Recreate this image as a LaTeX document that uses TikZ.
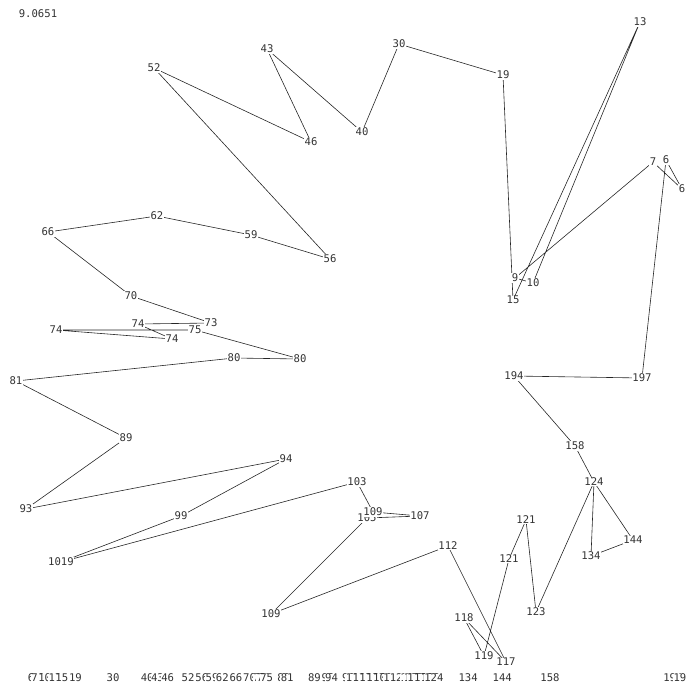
\documentclass[tikz,border=0pt]{standalone}
\usepackage{fontspec}
\setmonofont{DejaVu Sans Mono}
\usetikzlibrary{backgrounds}
\begin{document}
\begin{tikzpicture}[x=1pt,y=-1pt,
  lab/.style={font=\ttfamily\fontsize{10.6}{12}\selectfont, fill=white, inner sep=0.5pt, text=black!80},
  edge/.style={line width=0.6pt, black!85}]
\useasboundingbox (0,0) rectangle (687,689);
\node[lab] (title) at (38,14) {9.0651};
% tour labels
\node[lab] (n13) at (640,22) {13};
\node[lab] (n30) at (399,44) {30};
\node[lab] (n19) at (503,75) {19};
\node[lab] (n43) at (267,49) {43};
\node[lab] (n52) at (154,68) {52};
\node[lab] (n40) at (362,132) {40};
\node[lab] (n46) at (311,142) {46};
\node[lab] (n7) at (653,162) {7};
\node[lab] (n6a) at (666,160) {6};
\node[lab] (n6b) at (682,189) {6};
\node[lab] (n62) at (157,216) {62};
\node[lab] (n66) at (48,232) {66};
\node[lab] (n59) at (251,235) {59};
\node[lab] (n56) at (330,259) {56};
\node[lab] (n9) at (515,278) {9};
\node[lab] (n10) at (533,283) {10};
\node[lab] (n15) at (513,300) {15};
\node[lab] (n70) at (131,296) {70};
\node[lab] (n73) at (211,323) {73};
\node[lab] (n74a) at (138,324) {74};
\node[lab] (n75) at (195,330) {75};
\node[lab] (n74b) at (56,330) {74};
\node[lab] (n74c) at (172,339) {74};
\node[lab] (n80a) at (234,358) {80};
\node[lab] (n80b) at (300,359) {80};
\node[lab] (n81) at (16,381) {81};
\node[lab] (n194) at (514,376) {194};
\node[lab] (n197) at (642,378) {197};
\node[lab] (n89) at (126,438) {89};
\node[lab] (n158) at (575,446) {158};
\node[lab] (n94) at (286,459) {94};
\node[lab] (n124) at (594,482) {124};
\node[lab] (n103) at (357,482) {103};
\node[lab] (n105) at (367,518) {105};
\node[lab] (n109a) at (373,512) {109};
\node[lab] (n107) at (420,516) {107};
\node[lab] (n93) at (26,509) {93};
\node[lab] (n99) at (181,516) {99};
\node[lab] (n121a) at (526,520) {121};
\node[lab] (n144) at (633,540) {144};
\node[lab] (n112) at (448,546) {112};
\node[lab] (n134) at (591,556) {134};
\node[lab] (n121b) at (509,559) {121};
\node[lab] (n1019) at (61,562) {1019};
\node[lab] (n109b) at (271,614) {109};
\node[lab] (n123) at (536,612) {123};
\node[lab] (n118) at (464,618) {118};
\node[lab] (n119) at (484,656) {119};
\node[lab] (n117) at (506,662) {117};
% bottom row
\foreach \v in {6,7,9,10,13,15,19,30,40,43,46,52,56,59,62,66,70,73,74,75,80,81,89,93,94,99,101,103,105,107,109,112,117,118,119,121,123,124,134,144,158,194,197}
  \node[lab] (b\v) at ({10.6+3.414*\v},678) {\v};
\begin{scope}[on background layer]
\draw[edge] (n30.center) -- (n19.center) -- (n15.center) -- (n13.center) -- (n10.center)
  -- (n9.center) -- (n7.center) -- (n6b.center) -- (n6a.center) -- (n197.center)
  -- (n194.center) -- (n158.center) -- (n124.center) -- (n144.center) -- (n134.center)
  -- (n124.center) -- (n123.center) -- (n121a.center) -- (n121b.center) -- (n119.center)
  -- (n118.center) -- (n117.center) -- (n112.center) -- (n109b.center) -- (n105.center)
  -- (n107.center) -- (n109a.center) -- (n103.center) -- (n1019.center) -- (n99.center)
  -- (n94.center) -- (n93.center) -- (n89.center) -- (n81.center) -- (n80a.center)
  -- (n80b.center) -- (n75.center) -- (n74b.center) -- (n74c.center) -- (n74a.center)
  -- (n73.center) -- (n70.center) -- (n66.center) -- (n62.center) -- (n59.center)
  -- (n56.center) -- (n52.center) -- (n46.center) -- (n43.center) -- (n40.center)
  -- (n30.center);
\end{scope}
\end{tikzpicture}
\end{document}
